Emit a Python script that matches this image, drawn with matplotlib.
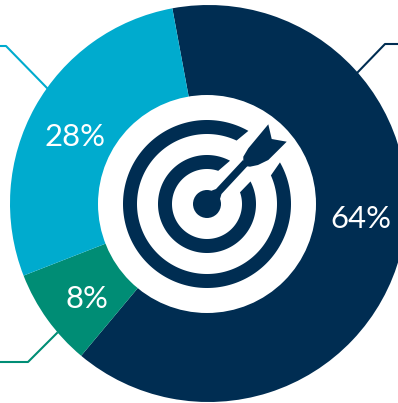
#!/usr/bin/env python
import numpy as np
import matplotlib.pyplot as plt
from matplotlib.patches import Circle, Polygon

labels = ['64%', '8%', '28%']
shares = [64, 8, 28]
colors = ['#002D52', '#008D75', '#00ABCE']

W, H = 398, 403
NAVY = '#002D52'


def flip(points):
    # pixel style coordinates (y down) to axes coordinates (y up)
    return [(x, H - y) for x, y in points]


def ring(cx, cy, outer, inner, outer_from, outer_to, inner_from, inner_to):
    # open ring with slanted ends, angles run clockwise from twelve o'clock
    a = np.radians(np.linspace(outer_from, outer_to, 200))
    b = np.radians(np.linspace(inner_from, inner_to, 200))
    xs = np.r_[cx + outer * np.sin(a), cx + inner * np.sin(b)]
    ys = np.r_[cy + outer * np.cos(a), cy + inner * np.cos(b)]
    return Polygon(np.c_[xs, ys], fc=NAVY, ec='none', zorder=4)


def main():
    fig = plt.figure(figsize=(W / 100, H / 100), dpi=100)
    ax = fig.add_axes([0, 0, 1, 1])

    ax.pie(shares, colors=colors, startangle=100.5, counterclock=False,
           center=(208.5, H - 203.5), radius=198.5, wedgeprops={'linewidth': 0})
    ax.set_xlim(0, W)
    ax.set_ylim(0, H)
    ax.set_aspect('equal')
    ax.axis('off')

    # leader lines running off the edges
    ax.plot(*zip(*flip([(0, 46), (6, 46), (47, 88)])), color='#00ABCE', lw=1.5)
    ax.plot(*zip(*flip([(0, 362), (28, 362), (57, 333)])), color='#008D75', lw=1.5)
    ax.plot(*zip(*flip([(357, 73), (385, 44), (398, 44)])), color=NAVY, lw=1.5)

    # target icon
    cx, cy = 207, H - 204
    ax.add_patch(Circle((cx, cy), 109, fc='white', ec='none', zorder=3))
    ax.add_patch(ring(cx, cy, 84, 70, 60.3, 389.5, 385, 65.9))
    ax.add_patch(ring(cx, cy, 49, 35, 62.6, 388, 378.7, 70.5))
    ax.add_patch(Circle((cx, cy), 14, fc=NAVY, ec='none', zorder=4))

    # dart shaft and fletching
    ax.add_patch(Polygon(flip([(207, 195), (212, 190.5), (216, 189), (243, 160),
                               (248, 165.5), (221.5, 194), (220, 199), (215, 205)]),
                         fc=NAVY, ec='none', zorder=4))
    ax.add_patch(Polygon(flip([(268.3, 124.3), (271.7, 139), (286.7, 141.7),
                               (276.7, 151.7), (268.3, 160), (258, 165),
                               (250, 166.7), (245, 166), (243.3, 163),
                               (243.3, 156.7), (248.3, 148.3)]),
                         fc=NAVY, ec='none', zorder=4))

    text = {'family': 'Lato', 'color': 'white', 'fontsize': 22.3,
            'ha': 'center', 'va': 'center', 'zorder': 5}
    ax.text(361, H - 219.5, labels[0], **text)
    ax.text(87, H - 299.5, labels[1], **text)
    ax.text(75, H - 137.5, labels[2], **text)

    plt.savefig('out.png', dpi=100)


if __name__ == '__main__':
    main()
